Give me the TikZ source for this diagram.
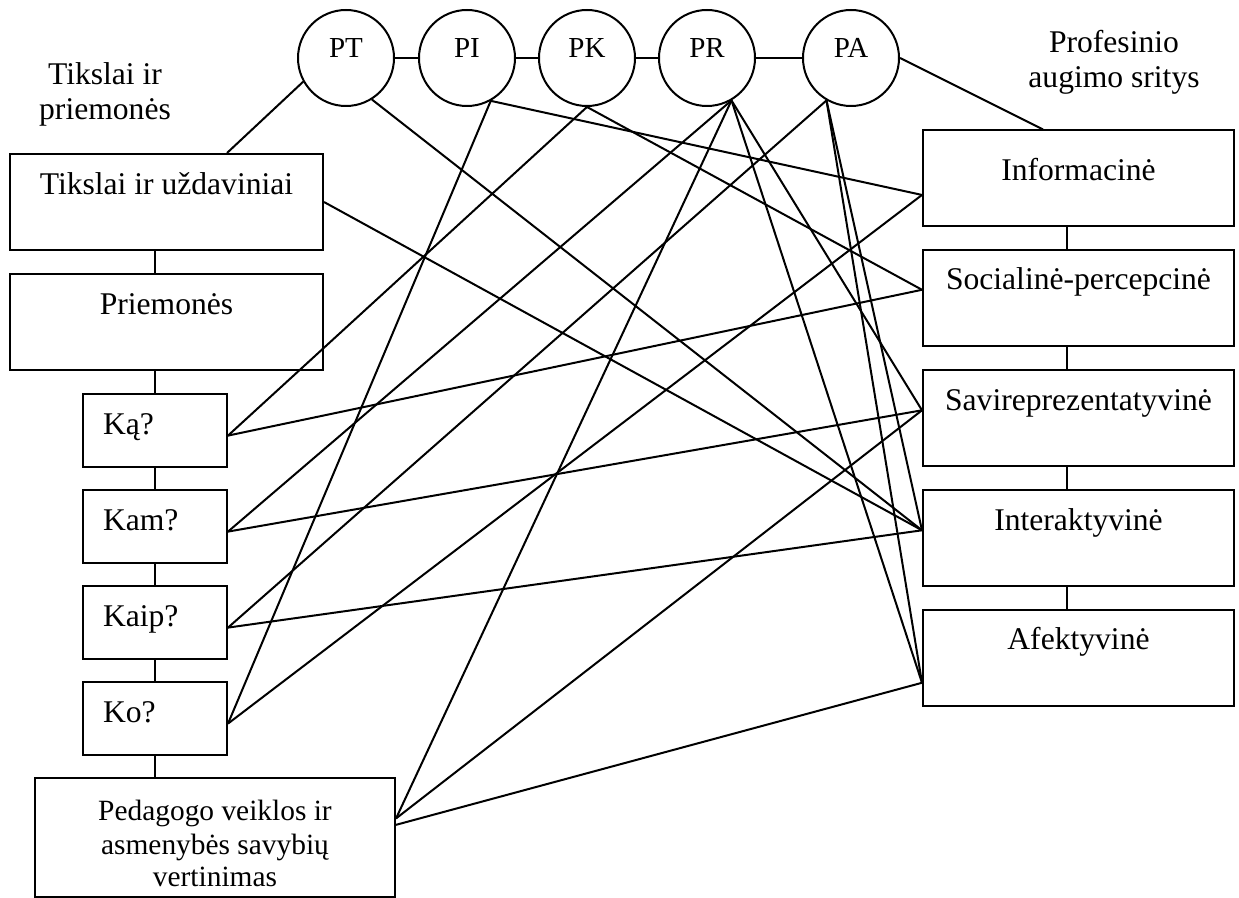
\documentclass[tikz,border=0pt]{standalone}
\usepackage{fontspec}
\setmainfont{Liberation Serif}
\usetikzlibrary{calc}

\begin{document}
\begin{tikzpicture}[
  x=0.5pt, y=-0.5pt, line width=1pt,
  txt/.style={font=\fontsize{15.8}{17.5}\selectfont},
  ball/.style={draw, circle, minimum size=48pt, inner sep=0pt,
               font=\fontsize{14.5}{16}\selectfont,
               text height=7pt, text depth=7pt},
  box/.style={draw, txt, inner sep=0pt},
  wide/.style={box, minimum width=156.5pt, text height=20.5pt, text depth=27.5pt},
  ask/.style={box, inner xsep=10pt, text width=52pt, align=left,
              text height=20.5pt, text depth=16pt},
  area/.style={box, minimum width=155.5pt, text height=20pt, text depth=28pt}
]
  \useasboundingbox (0,0) rectangle (1239,898);

  % circles
  \node[ball] (pt) at (346,58) {PT};
  \node[ball] (pi) at (467,58) {PI};
  \node[ball] (pk) at (587,58) {PK};
  \node[ball] (pr) at (707,58) {PR};
  \node[ball] (pa) at (851,58) {PA};

  % left column
  \node[txt, align=center, anchor=base] (celtit) at (105,120) {Tikslai ir\\priemonės};
  \node[wide] (tik) at (166.5,202) {Tikslai ir uždaviniai};
  \node[wide] (pri) at (166.5,322) {Priemonės};
  \node[ask] (ka) at (155,430.5) {Ką?};
  \node[ask] (kam) at (155,526.5) {Kam?};
  \node[ask] (kaip) at (155,622.5) {Kaip?};
  \node[ask] (ko) at (155,718.5) {Ko?};
  \node[box, minimum width=180pt, align=center,
        font=\fontsize{14.7}{16.5}\selectfont,
        text height=54.5pt, text depth=5pt] (ped) at (215,837.5)
    {Pedagogo veiklos ir\\asmenybės savybių\\vertinimas};

  % right column
  \node[txt, align=center, anchor=base] (srtit) at (1114,88) {Profesinio\\augimo sritys};
  \node[area, text height=25pt, text depth=23pt] (inf) at (1078.5,178.5) {Informacinė};
  \node[area] (soc) at (1078.5,298) {Socialinė-percepcinė};
  \node[area] (sav) at (1078.5,418.5) {Savireprezentatyvinė};
  \node[area] (int) at (1078.5,538.5) {Interaktyvinė};
  \node[area] (afe) at (1078.5,658) {Afektyvinė};

  % chains
  \foreach \a/\b in {pt/pi, pi/pk, pk/pr, pr/pa}
    \draw (\a) -- (\b);
  \draw (tik.south -| ka) -- (pri.north -| ka);
  \draw (pri.south -| ka) -- (ka);
  \foreach \a/\b in {ka/kam, kam/kaip, kaip/ko}
    \draw (\a) -- (\b);
  \draw (ko) -- (ped.north -| ko);
  \foreach \a/\b in {inf/soc, soc/sav, sav/int, int/afe}
    \draw ([xshift=-6pt]\a.south) -- ([xshift=-6pt]\b.north);

  % links
  \draw (pt.-151) -- ($(tik.north)+(60.5,0)$);
  \draw (pa.east) -- ($(inf.north)+(-35.5,0)$);
  \draw (tik.east) -- (int.177);
  \draw (pt.-58) -- (int.177);
  \draw (pi.-61) -- (inf.186);
  \draw (pi.-61) -- (ko.-4);
  \draw (pk.south) -- (ka.-4);
  \draw (pk.south) -- (soc.177);
  \foreach \t in {kam.-4, ped.6, sav.177, afe.189}
    \draw (pr.-60) -- (\t);
  \foreach \t in {kaip.-4, int.177, afe.189}
    \draw (pa.-120) -- (\t);
  \draw (ka.-4) -- (soc.177);
  \draw (kam.-4) -- (sav.177);
  \draw (kaip.-4) -- (int.177);
  \draw (ko.-4) -- (inf.186);
  \draw (ped.6) -- (sav.177);
  \draw (ped.4) -- (afe.189);
\end{tikzpicture}
\end{document}
